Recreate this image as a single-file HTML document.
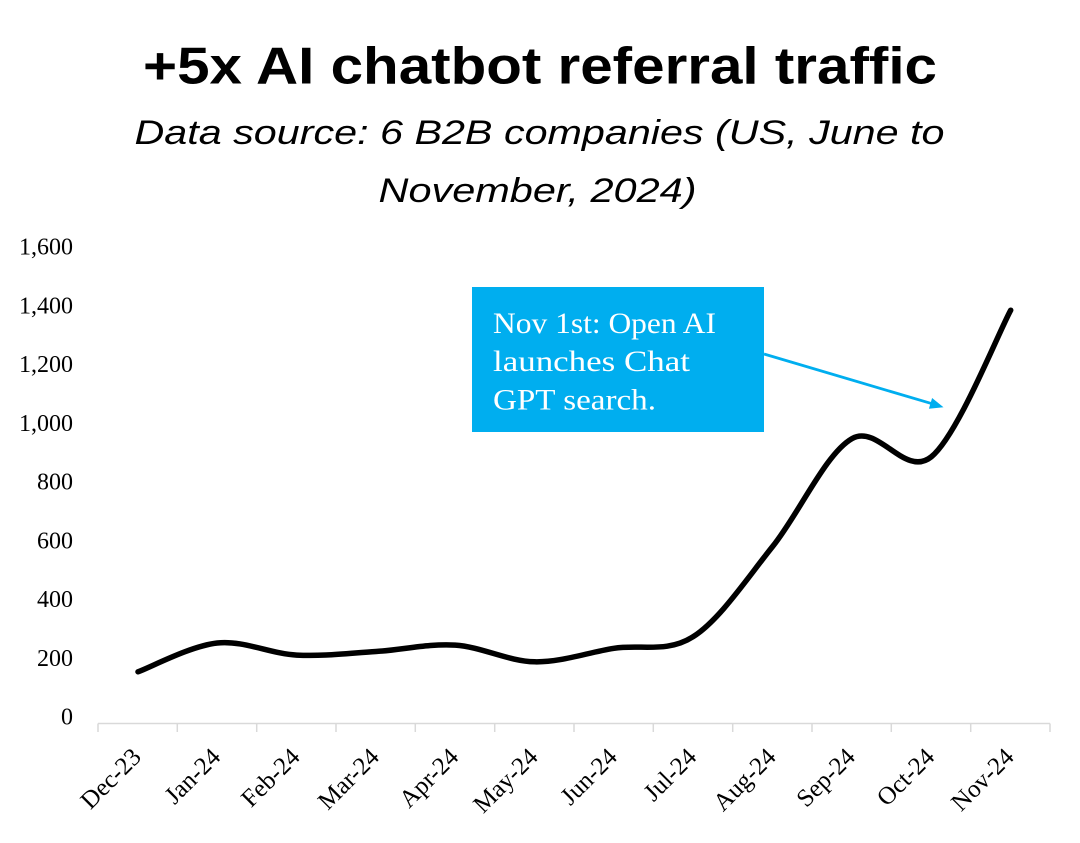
<!DOCTYPE html>
<html>
<head>
<meta charset="utf-8">
<style>
html,body{margin:0;padding:0;background:#fff;}
svg{display:block;}
</style>
</head>
<body>
<svg width="1080" height="843" viewBox="0 0 1080 843" xmlns="http://www.w3.org/2000/svg">
  <rect width="1080" height="843" fill="#fff"/>
  <!-- Title -->
  <text x="540" y="83.5" text-anchor="middle" font-family="Liberation Sans, sans-serif" font-weight="bold" font-size="52" textLength="794" lengthAdjust="spacingAndGlyphs" fill="#000">+5x AI chatbot referral traffic</text>
  <text x="539.5" y="144" text-anchor="middle" font-family="Liberation Sans, sans-serif" font-style="italic" font-size="34" textLength="810" lengthAdjust="spacingAndGlyphs" fill="#000">Data source: 6 B2B companies (US, June to</text>
  <text x="537.5" y="202" text-anchor="middle" font-family="Liberation Sans, sans-serif" font-style="italic" font-size="34" textLength="318" lengthAdjust="spacingAndGlyphs" fill="#000">November, 2024)</text>

  <!-- Y axis labels -->
  <g font-family="Liberation Serif, serif" font-size="24" fill="#000" text-anchor="end">
    <text x="73" y="724.5">0</text>
    <text x="73" y="665.75">200</text>
    <text x="73" y="607">400</text>
    <text x="73" y="548.25">600</text>
    <text x="73" y="489.5">800</text>
    <text x="73" y="430.75">1,000</text>
    <text x="73" y="372">1,200</text>
    <text x="73" y="313.25">1,400</text>
    <text x="73" y="254.5">1,600</text>
  </g>

  <!-- X axis -->
  <g stroke="#d9d9d9" stroke-width="1.5" fill="none">
    <line x1="98" y1="723.5" x2="1050" y2="723.5"/>
    <line x1="98" y1="723.5" x2="98" y2="732"/>
    <line x1="177.3" y1="723.5" x2="177.3" y2="732"/>
    <line x1="256.7" y1="723.5" x2="256.7" y2="732"/>
    <line x1="336" y1="723.5" x2="336" y2="732"/>
    <line x1="415.3" y1="723.5" x2="415.3" y2="732"/>
    <line x1="494.7" y1="723.5" x2="494.7" y2="732"/>
    <line x1="574" y1="723.5" x2="574" y2="732"/>
    <line x1="653.3" y1="723.5" x2="653.3" y2="732"/>
    <line x1="732.7" y1="723.5" x2="732.7" y2="732"/>
    <line x1="812" y1="723.5" x2="812" y2="732"/>
    <line x1="891.3" y1="723.5" x2="891.3" y2="732"/>
    <line x1="970.7" y1="723.5" x2="970.7" y2="732"/>
    <line x1="1050" y1="723.5" x2="1050" y2="732"/>
  </g>

  <!-- X labels -->
  <g font-family="Liberation Serif, serif" font-size="25" fill="#000" text-anchor="end">
    <text transform="translate(142.5,758.3) rotate(-45)">Dec-23</text>
    <text transform="translate(221.8,758.3) rotate(-45)">Jan-24</text>
    <text transform="translate(301.2,758.3) rotate(-45)">Feb-24</text>
    <text transform="translate(380.5,758.3) rotate(-45)">Mar-24</text>
    <text transform="translate(459.8,758.3) rotate(-45)">Apr-24</text>
    <text transform="translate(539.2,758.3) rotate(-45)">May-24</text>
    <text transform="translate(618.5,758.3) rotate(-45)">Jun-24</text>
    <text transform="translate(697.8,758.3) rotate(-45)">Jul-24</text>
    <text transform="translate(777.2,758.3) rotate(-45)">Aug-24</text>
    <text transform="translate(856.5,758.3) rotate(-45)">Sep-24</text>
    <text transform="translate(935.8,758.3) rotate(-45)">Oct-24</text>
    <text transform="translate(1015.2,758.3) rotate(-45)">Nov-24</text>
  </g>

  <!-- Data line -->
  <path d="M138.0,671.8 C151.22,667.0 190.86,645.78 217.3,643.0
           C243.74,640.22 270.26,653.68 296.7,655.1
           C323.14,656.52 349.56,653.17 376.0,651.5
           C402.44,649.83 428.86,643.38 455.3,645.1
           C481.74,646.82 508.26,661.27 534.7,661.8
           C561.14,662.33 587.56,652.5 614.0,648.3
           C640.44,644.1 666.86,653.58 693.3,636.6
           C719.74,619.62 746.26,579.4 772.7,546.4
           C799.14,513.4 825.56,453.53 852.0,438.6
           C878.44,423.67 904.86,478.2 931.3,456.8
           C957.74,435.4 997.48,334.63 1010.7,310.2"
        fill="none" stroke="#000" stroke-width="5.5" stroke-linecap="round" stroke-linejoin="round"/>

  <!-- Annotation -->
  <rect x="472" y="287" width="292" height="145" fill="#00AEEF"/>
  <g font-family="Liberation Serif, serif" font-size="30" fill="#fff">
    <text x="493" y="333" textLength="223" lengthAdjust="spacingAndGlyphs">Nov 1st: Open AI</text>
    <text x="493" y="371" textLength="197" lengthAdjust="spacingAndGlyphs">launches Chat</text>
    <text x="493" y="409.5" textLength="163" lengthAdjust="spacingAndGlyphs">GPT search.</text>
  </g>
  <line x1="764" y1="354" x2="932" y2="403.7" stroke="#00AEEF" stroke-width="2.8"/>
  <polygon points="943.5,407.2 928.9,408.8 932.1,398.0" fill="#00AEEF"/>
</svg>
</body>
</html>
